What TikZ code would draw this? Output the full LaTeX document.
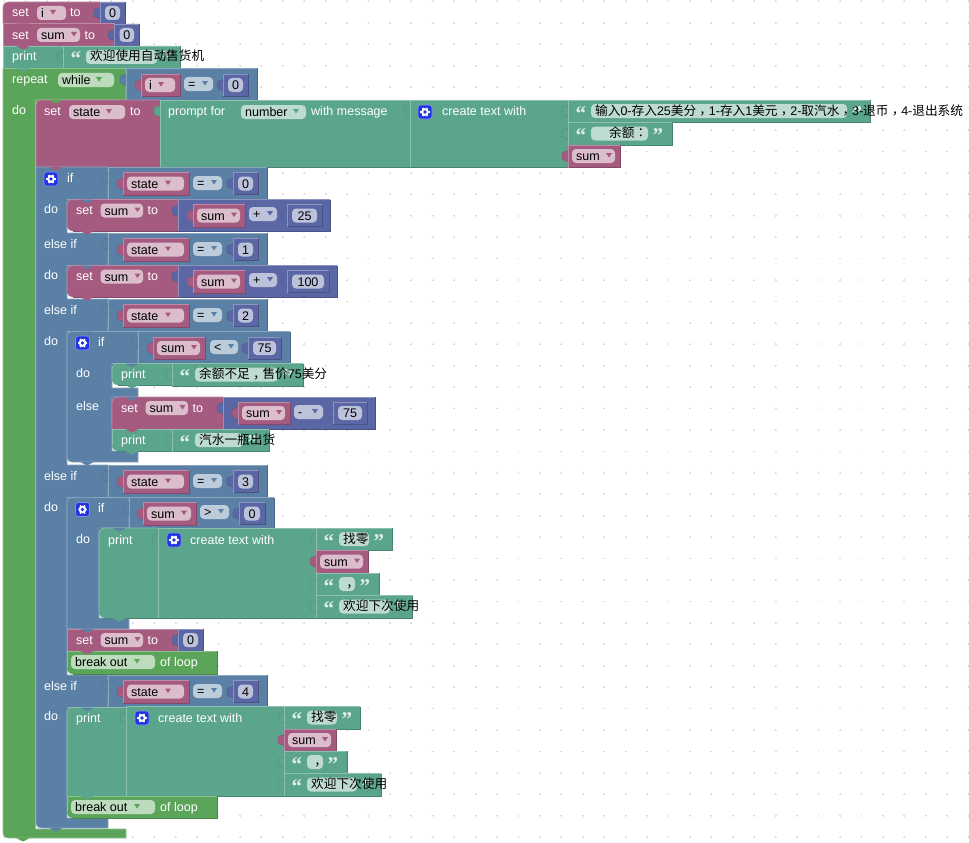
\documentclass[tikz,border=0pt]{standalone}
\usepackage{fontspec}
\setmainfont{Liberation Sans}
\newfontfamily\cjk{Noto Sans CJK SC}
\newfontfamily\cjkp{Noto Sans CJK TC}
\newfontfamily\qfont{Liberation Serif}
\definecolor{pk}{HTML}{A55B80}\definecolor{pkL}{HTML}{C08AA6}\definecolor{pkD}{HTML}{84496A}\definecolor{pkF}{HTML}{DBBDCC}
\definecolor{mb}{HTML}{5B67A5}\definecolor{mbL}{HTML}{8C95C0}\definecolor{mbD}{HTML}{495284}\definecolor{mbF}{HTML}{BDC2DB}
\definecolor{lg}{HTML}{5B80A5}\definecolor{lgL}{HTML}{8CA6C0}\definecolor{lgD}{HTML}{496684}\definecolor{lgF}{HTML}{BDCCDB}
\definecolor{te}{HTML}{5BA58C}\definecolor{teL}{HTML}{8CC0AF}\definecolor{teD}{HTML}{498470}\definecolor{teF}{HTML}{BDDBD1}
\definecolor{gr}{HTML}{5BA55B}\definecolor{grL}{HTML}{8CC08C}\definecolor{grD}{HTML}{498449}\definecolor{grF}{HTML}{BDDBBD}
\definecolor{iconblue}{HTML}{2136E0}
\newcount\nodeno
\newcommand\Cj[1]{{\fontsize{12.67}{14}\selectfont\cjk #1}}
\newcommand\Cp[1]{{\fontsize{12.67}{14}\selectfont\cjkp #1}}
\newcommand\Cc{\raisebox{-3.6pt}{\Cp{，}}}
\tikzset{
  lb/.style={anchor=base west,inner sep=0pt,text=white,font=\fontsize{12.5}{14}\selectfont},
  blk/.style={anchor=base west,inner sep=0pt,text=black,font=\fontsize{12.5}{14}\selectfont},
  blc/.style={anchor=base,inner sep=0pt,text=black,font=\fontsize{12.5}{14}\selectfont},
  qt/.style={anchor=base west,inner sep=0pt,text=teF!50!white,font=\fontsize{21}{21}\selectfont\qfont\bfseries},
  edge/.style={line width=.7pt}
}
\newcommand\Blab[3]{\global\advance\nodeno by 1 \node[lb] (n\the\nodeno) at (#1,#2) {#3};}
\newcommand\Bblack[3]{\global\advance\nodeno by 1 \node[blk] (n\the\nodeno) at (#1,#2) {#3};}
\newcommand\Bblk[7]{%
  \fill[#1] (#2,#3+#6) .. controls (#2,#3+.4*#6) and (#2+.4*#6,#3) .. (#2+#6,#3) -- (#4,#3) -- (#4,#5) -- (#2+#7,#5) .. controls (#2+.4*#7,#5) and (#2,#5-.4*#7) .. (#2,#5-#7) -- cycle;
  \draw[#1D,edge] (#4,#3) -- (#4,#5) -- (#2+#7,#5);
  \draw[#1L,edge] (#2,#5-#7) -- (#2,#3+#6) .. controls (#2,#3+.4*#6) and (#2+.4*#6,#3) .. (#2+#6,#3) -- (#4,#3);
}
\newcommand\Bvt[3]{%
  \filldraw[fill=#1,draw=#1D!70!#1,line width=.4pt] (#2,#3+5) .. controls (#2,#3+8.5) and (#2-6,#3+3.5) .. (#2-6,#3+11) .. controls (#2-6,#3+18.5) and (#2,#3+14) .. (#2,#3+17.5);
}
\newcommand\Bnt[3]{%
  \fill[#1] (#2+13.5,#3) .. controls (#2+16,#3) and (#2+17,#3+3.6) .. (#2+20,#3+3.6) .. controls (#2+23,#3+3.6) and (#2+24,#3) .. (#2+26.5,#3);
}
\newcommand\Bdd[6]{%
  \fill[#1F,rounded corners=4pt] (#2,#4) rectangle (#3,#4+14);
  \fill[#1] (#2+#6-3,#4+4) -- (#2+#6+3,#4+4) -- (#2+#6,#4+8.6) -- cycle;
  \Bblack{#2+4}{#4+11.5}{#5}
}
\newcommand\Bvar[5]{%
  \Bvt{pk}{#1}{#3}
  \Bblk{pk}{#1}{#3}{#2}{#3+22.5}{0}{0}
  \Bdd{pk}{#1+4}{#2-5}{#3+4}{#4}{#5}
}
\newcommand\Bnum[4]{%
  \Bvt{mb}{#1}{#3}
  \Bblk{mb}{#1}{#3}{#2}{#3+22}{0}{0}
  \fill[mbF,rounded corners=4pt] (#1+5,#3+4) rectangle (#2-5,#3+18);
  \global\advance\nodeno by 1
  \node[blc] (n\the\nodeno) at ({(#1+#2)/2},#3+15.5) {#4};
}
\newcommand\Bop[5]{\Bdd{#1}{#2}{#3}{#4}{#5}{21}}
\newcommand\Btxt[6]{%
  \Bvt{te}{#1}{#3}
  \Bblk{te}{#1}{#3}{#2}{#3+22.5}{0}{0}
  \fill[teF,rounded corners=4pt] (#4,#3+4) rectangle (#5,#3+18);
  \global\advance\nodeno by 1
  \node[qt] (n\the\nodeno) at (#4-15.5,#3+20) {“};
  \global\advance\nodeno by 1
  \node[qt] (n\the\nodeno) at (#5+4.5,#3+20) {”};
  \Bblack{#4+4}{#3+15}{#6}
}
\newcommand\Bcmp[2]{%
  \Bvt{lg}{108}{#1}
  \Bblk{lg}{108}{#1}{267}{#1+32.5}{0}{0}
  \Bvar{123}{189}{#1+5.5}{state}{41}
  \Bop{lg}{193}{222}{#1+9}{=}
  \Bnum{233}{258}{#1+5.5}{#2}
}
\newcommand\Bicon[2]{%
  \begin{scope}[shift={(#1,#2)}]
    \filldraw[fill=iconblue,draw=iconblue!55!white,line width=.6pt,rounded corners=3pt] (0,0) rectangle (14,14);
    \foreach \a in {0,60,120,180,240,300}{\draw[white,line width=1.5pt] (7,7) -- ++(\a:4.7);}
    \fill[white] (7,7) circle (3.9pt);
    \fill[iconblue] (7,7) circle (1.9pt);
  \end{scope}
}
\newcommand\Bsetsum[5]{%
  \Bblk{pk}{#1}{#2}{#1+111}{#3}{#4}{#5}
  \Blab{#1+9}{#2+15}{set}
  \Bdd{pk}{#1+33.5}{#1+76}{#2+4}{sum}{37}
  \Blab{#1+80.5}{#2+15}{to}
}
\newcommand\Bbreak[2]{%
  \Bblk{gr}{67}{#1}{217}{#2}{0}{6}
  \Bdd{gr}{71}{155}{#1+4}{break out}{66}
  \Blab{160}{#1+15.5}{of loop}
}
\begin{document}
\begin{tikzpicture}[x=1pt,y=-1pt]
\useasboundingbox (0,0) rectangle (969,843);
\fill[white] (0,0) rectangle (969,843);
\foreach \i in {0,...,45}{\foreach \j in {0,...,39}{
  \draw[black!15,line width=.6pt] (3.3+21.43*\i,1.4+21.43*\j) -- (5.1+21.43*\i,1.4+21.43*\j);
  \draw[black!15,line width=.6pt] (4.2+21.43*\i,0.5+21.43*\j) -- (4.2+21.43*\i,2.3+21.43*\j);
}}
\Bblk{pk}{3}{2}{100}{23.5}{5}{0}
\Blab{12}{17}{set}
\Bdd{pk}{37}{66}{6}{i}{16}
\Blab{70}{17}{to}
\Bnum{100}{125}{2}{0}
\Bblk{pk}{3}{23.5}{114.5}{46}{0}{0}
\Blab{12}{39.5}{set}
\Bdd{pk}{37}{80}{28}{sum}{37}
\Blab{84.5}{39.5}{to}
\Bnum{114.5}{139}{24}{0}
\Bblk{te}{3}{46}{63}{68.5}{0}{0}
\Blab{12}{61}{print}
\Btxt{63}{180}{46}{86}{157}{\Cj{欢迎使用自动售货机}}
\filldraw[fill=gr,draw=grL,line width=.7pt] (3,68.5) -- (126,68.5) -- (126,100) -- (35.5,100) -- (35.5,829) -- (126,829) -- (126,838) -- (9,838) .. controls (5,838) and (3,836) .. (3,832) -- cycle;
\fill[gr] (35.5,100) rectangle (42,106);
\Blab{12}{84}{repeat}
\Bdd{gr}{58}{114}{73}{while}{41}
\Blab{12}{114}{do}
\Bvt{lg}{126}{68.5}
\Bblk{lg}{126}{68.5}{257}{100}{0}{0}
\Bvar{141}{180}{74}{i}{16}
\Bop{lg}{184}{213}{77}{=}
\Bnum{223}{248}{74}{0}
\Bblk{pk}{36}{100}{160}{167}{5}{0}
\Blab{44}{115}{set}
\Bdd{pk}{69}{125}{105}{state}{40}
\Blab{130}{115}{to}
\Bvt{te}{160}{100}
\Bblk{te}{160}{100}{410}{167}{0}{0}
\Blab{168}{115}{prompt for}
\Bdd{te}{241}{306}{105}{number}{55}
\Blab{311}{115}{with message}
\Bvt{te}{410}{100}
\Bblk{te}{410}{100}{568}{167}{0}{0}
\Bicon{418}{105}
\Blab{442}{115}{create text with}
\Btxt{568}{870}{100}{591}{847}{\Cj{输入}0-\Cj{存入}25\Cj{美分}\Cc 1-\Cj{存入}1\Cj{美元}\Cc 2-\Cj{取汽水}\Cc 3-\Cj{退币}\Cc 4-\Cj{退出系统}}
\Btxt{568}{672}{122.5}{591}{648}{\hspace{14pt}\Cj{余额}\Cp{：}}
\Bvar{568}{620}{145}{sum}{37}
\filldraw[fill=lg,draw=lgL,line width=.7pt] (36,167) -- (108,167) -- (108,199.5) -- (67,199.5) -- (67,233) -- (108,233) -- (108,265.5) -- (67,265.5) -- (67,299) -- (108,299) -- (108,331.5) -- (67,331.5) -- (67,465) -- (108,465) -- (108,497.5) -- (67,497.5) -- (67,675) -- (108,675) -- (108,707.5) -- (67,707.5) -- (67,818) -- (108,818) -- (108,828) -- (42,828) .. controls (38,828) and (36,826) .. (36,822) -- cycle;
\foreach \yy in {199.5,265.5,331.5,497.5,707.5}{\fill[lg] (67,\yy) rectangle (74,\yy+7);}
\Bicon{44}{172}
\Blab{67}{182}{if}
\Blab{44}{213}{do}
\Blab{44}{248}{else if}
\Blab{44}{279}{do}
\Blab{44}{314}{else if}
\Blab{44}{345}{do}
\Blab{44}{480}{else if}
\Blab{44}{511}{do}
\Blab{44}{690}{else if}
\Blab{44}{720}{do}
\Bcmp{167}{0}
\Bcmp{233}{1}
\Bcmp{299}{2}
\Bcmp{465}{3}
\Bcmp{675}{4}
\Bsetsum{67}{199.5}{231}{6}{6}
\Bvt{mb}{178}{199.5}
\Bblk{mb}{178}{199.5}{330}{231}{0}{0}
\Bvar{193}{245}{204.5}{sum}{37}
\Bop{mb}{249}{277}{207}{+}
\Bnum{287}{322}{204.5}{25}
\Bsetsum{67}{265.5}{297}{6}{6}
\Bvt{mb}{178}{265.5}
\Bblk{mb}{178}{265.5}{337}{297}{0}{0}
\Bvar{193}{245}{270.5}{sum}{37}
\Bop{mb}{249}{277}{273}{+}
\Bnum{287}{329}{270.5}{100}
\filldraw[fill=lg,draw=lgL,line width=.7pt] (67,337) .. controls (67,333) and (69,331.5) .. (73,331.5) -- (138,331.5) -- (138,363.5) -- (112,363.5) -- (112,388) -- (138,388) -- (138,397) -- (112,397) -- (112,451) -- (138,451) -- (138,462) -- (73,462) .. controls (69,462) and (67,460) .. (67,456) -- cycle;
\fill[lg] (112,363.5) rectangle (119,370);
\fill[lg] (112,397) rectangle (119,403);
\Bicon{75.5}{336}
\Blab{98}{346}{if}
\Blab{76}{377.5}{do}
\Blab{76}{410.5}{else}
\Bvt{lg}{138}{331.5}
\Bblk{lg}{138}{331.5}{290}{363.5}{0}{0}
\Bvar{153}{205}{337}{sum}{37}
\Bop{lg}{210}{238}{340}{<}
\Bnum{248}{281}{337}{75}
\Bblk{te}{112}{363.5}{172}{385}{6}{6}
\Blab{121}{378.5}{print}
\Btxt{172}{303}{363.5}{195}{278}{\Cj{余额不足}\Cc\Cj{售价}75\Cj{美分}}
\Bsetsum{112}{397}{429}{6}{0}
\Bvt{mb}{223}{397}
\Bblk{mb}{223}{397}{375}{429}{0}{0}
\Bvar{238}{290}{402}{sum}{37}
\Bop{mb}{294}{323}{405}{-}
\Bnum{333}{367}{402}{75}
\Bblk{te}{112}{429}{172}{451}{0}{6}
\Blab{121}{444}{print}
\Btxt{172}{269}{429}{195}{243}{\Cj{汽水一瓶出货}}
\filldraw[fill=lg,draw=lgL,line width=.7pt] (67,503) .. controls (67,499.5) and (69,497.5) .. (73,497.5) -- (129,497.5) -- (129,528) -- (99,528) -- (99,618) -- (129,618) -- (129,629) -- (67,629) -- cycle;
\fill[lg] (99,528) rectangle (106,534);
\Bicon{75.5}{502.5}
\Blab{98}{512.5}{if}
\Blab{76}{543.5}{do}
\Bvt{lg}{129}{497.5}
\Bblk{lg}{129}{497.5}{274}{528}{0}{0}
\Bvar{143}{196}{502.5}{sum}{37}
\Bop{lg}{200}{229}{505}{>}
\Bnum{239}{265}{502.5}{0}
\Bblk{te}{99}{528}{158}{618}{6}{6}
\Blab{108}{544}{print}
\Bvt{te}{158}{528}
\Bblk{te}{158}{528}{316}{618}{0}{0}
\Bicon{167}{533}
\Blab{190}{544}{create text with}
\Btxt{316}{392}{528}{339}{369}{\Cj{找零}}
\Bvar{316}{368}{550.5}{sum}{37}
\Btxt{316}{379}{573}{339}{355}{\Cc}
\Btxt{316}{412.5}{595.5}{339}{390}{\Cj{欢迎下次使用}}
\Bsetsum{67}{629}{651}{0}{0}
\Bnum{178}{203}{629}{0}
\Bbreak{651}{674}
\Bblk{te}{67}{707.5}{126}{796}{6}{0}
\Blab{76}{722}{print}
\Bvt{te}{126}{706.5}
\Bblk{te}{126}{706.5}{284}{796}{0}{0}
\Bicon{135}{711}
\Blab{158}{722}{create text with}
\Btxt{284}{360}{706.5}{307}{337}{\Cj{找零}}
\Bvar{284}{336}{729}{sum}{37}
\Btxt{284}{347}{751}{307}{323}{\Cc}
\Btxt{284}{381}{773.5}{307}{357}{\Cj{欢迎下次使用}}
\Bbreak{796}{818}
\Bnt{pk}{3}{23.5}
\Bnt{pk}{3}{46}
\Bnt{te}{3}{68.5}
\Bnt{gr}{36}{100}
\Bnt{pk}{36}{167}
\Bnt{lg}{67}{199.5}
\Bnt{pk}{67}{231}
\Bnt{lg}{67}{265.5}
\Bnt{pk}{67}{297}
\Bnt{lg}{67}{331.5}
\Bnt{lg}{112}{363.5}
\Bnt{te}{112}{385}
\Bnt{lg}{112}{397}
\Bnt{pk}{112}{429}
\Bnt{te}{112}{451}
\Bnt{lg}{67}{462}
\Bnt{lg}{67}{497.5}
\Bnt{lg}{99}{528}
\Bnt{te}{99}{618}
\Bnt{lg}{67}{629}
\Bnt{pk}{67}{651}
\Bnt{lg}{67}{707.5}
\Bnt{te}{67}{796}
\Bnt{lg}{36}{828}
\Bnt{gr}{3}{838}
\end{tikzpicture}
\end{document}
